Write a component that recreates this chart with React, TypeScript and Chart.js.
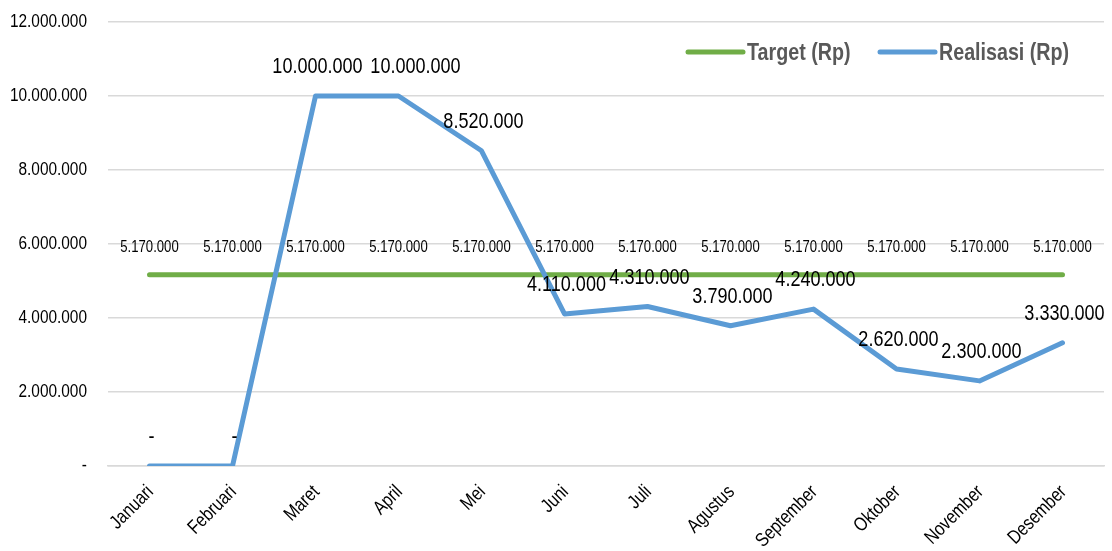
import React, { useEffect, useRef } from "react";
import { Chart, registerables } from "chart.js";

Chart.register(...registerables);

const months = ["Januari", "Februari", "Maret", "April", "Mei", "Juni", "Juli", "Agustus", "September", "Oktober", "November", "Desember"];
const target = [5170000, 5170000, 5170000, 5170000, 5170000, 5170000, 5170000, 5170000, 5170000, 5170000, 5170000, 5170000];
const realisasi = [0, 0, 10000000, 10000000, 8520000, 4110000, 4310000, 3790000, 4240000, 2620000, 2300000, 3330000];
const seriesNames = ["Target (Rp)", "Realisasi (Rp)"];
const yMax = 12000000;
const yStep = 2000000;
// label nudges (style only): index -> horizontal shift in px for Realisasi labels
const realisasiLabelNudge: Record<number, number> = { 3: 15 };

const GREEN = "#70AD47";
const BLUE = "#5B9BD5";
const FONT = "'Liberation Sans', Arial, sans-serif";
const NARROW = 0.82;

const fmt = (v: number) => (v === 0 ? "-" : String(Math.round(v)).replace(/\B(?=(\d{3})+(?!\d))/g, "."));

function drawText(
  ctx: CanvasRenderingContext2D,
  text: string,
  x: number,
  y: number,
  size: number,
  opts: { bold?: boolean; align?: CanvasTextAlign; color?: string; rot?: number } = {}
) {
  ctx.save();
  ctx.translate(x, y);
  if (opts.rot) ctx.rotate(opts.rot);
  ctx.scale(NARROW, 1);
  ctx.font = `${opts.bold ? "bold " : ""}${size}px ${FONT}`;
  ctx.textAlign = opts.align || "center";
  ctx.textBaseline = "middle";
  ctx.fillStyle = opts.color || "#000";
  ctx.fillText(text, 0, 0);
  ctx.restore();
}

const textPlugin = {
  id: "narrowTexts",
  afterDatasetsDraw(chart: any) {
    const ctx = chart.ctx;
    chart.data.datasets.forEach((ds: any, i: number) => {
      const meta = chart.getDatasetMeta(i);
      const big = ds.label === seriesNames[1];
      meta.data.forEach((pt: any, j: number) => {
        const v = ds.data[j];
        if (big) drawText(ctx, fmt(v), pt.x + 2 + (realisasiLabelNudge[j] || 0), pt.y - 29, 22);
        else drawText(ctx, fmt(v), pt.x, pt.y - 27, 16);
      });
    });
  },
  afterDraw(chart: any) {
    const ctx = chart.ctx;
    const ca = chart.chartArea;
    const ys = chart.scales.y;
    const xs = chart.scales.x;
    ys.ticks.forEach((t: any, i: number) => {
      const py = ys.getPixelForTick(i);
      drawText(ctx, fmt(t.value), ca.left - 21, py, 18.8, { align: "right" });
    });
    months.forEach((m, i) => {
      const px = xs.getPixelForTick(i);
      drawText(ctx, m, px + 1, ca.bottom + 23, 19.5, { align: "right", rot: -Math.PI / 4 });
    });
    const y = 52;
    const items = [
      { text: seriesNames[0], color: GREEN, x: ca.right - 416 },
      { text: seriesNames[1], color: BLUE, x: ca.right - 224 },
    ];
    items.forEach((it) => {
      ctx.save();
      ctx.strokeStyle = it.color;
      ctx.lineWidth = 5;
      ctx.lineCap = "round";
      ctx.beginPath();
      ctx.moveTo(it.x, y);
      ctx.lineTo(it.x + 55, y);
      ctx.stroke();
      ctx.restore();
      drawText(ctx, it.text, it.x + 59, y + 1, 24, { bold: true, align: "left", color: "#595959" });
    });
  },
};

export default function App() {
  const ref = useRef<HTMLCanvasElement | null>(null);
  useEffect(() => {
    if (!ref.current) return;
    const chart = new Chart(ref.current, {
      type: "line",
      data: {
        labels: months,
        datasets: [
          {
            label: seriesNames[0],
            data: target,
            borderColor: GREEN,
            backgroundColor: GREEN,
            borderWidth: 5,
            pointRadius: 0,
            tension: 0,
            borderCapStyle: "round",
            borderJoinStyle: "round",
            order: 2,
          },
          {
            label: seriesNames[1],
            data: realisasi,
            borderColor: BLUE,
            backgroundColor: BLUE,
            borderWidth: 5,
            pointRadius: 0,
            tension: 0,
            borderCapStyle: "round",
            borderJoinStyle: "round",
            order: 1,
          },
        ],
      },
      options: {
        animation: false,
        responsive: false,
        maintainAspectRatio: false,
        layout: { padding: { top: 22, right: 8, left: 0, bottom: 0 } },
        plugins: { legend: { display: false }, tooltip: { enabled: false } },
        scales: {
          x: {
            offset: true,
            grid: { display: false, drawTicks: false },
            border: { display: true, color: "#d9d9d9", width: 1.5 },
            ticks: { display: false, autoSkip: false },
            afterFit: (scale: any) => {
              scale.height = 85;
            },
          },
          y: {
            min: 0,
            max: yMax,
            grid: { color: "#d9d9d9", lineWidth: 1.5, drawTicks: false },
            border: { display: false },
            ticks: { display: false, stepSize: yStep },
            afterFit: (scale: any) => {
              scale.width = 108;
            },
          },
        },
      },
      plugins: [textPlugin],
    });
    return () => chart.destroy();
  }, []);
  return (
    <div style={{ position: "fixed", left: 0, top: 0, width: 1112, height: 551, background: "#fff" }}>
      <canvas ref={ref} width={1112} height={551} style={{ width: 1112, height: 551 }} />
    </div>
  );
}
